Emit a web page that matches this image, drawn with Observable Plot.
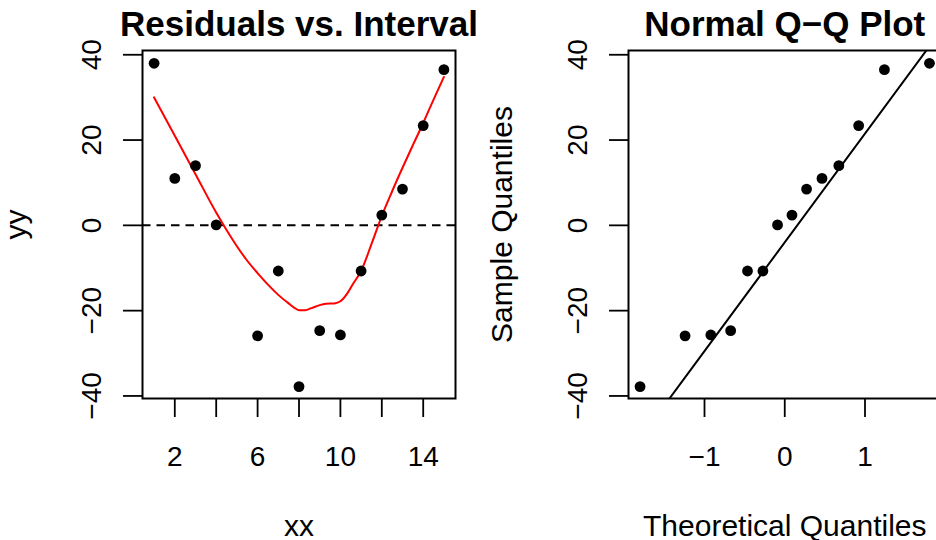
<!DOCTYPE html>
<html>
<head>
<meta charset="utf-8">
<script src="https://cdn.jsdelivr.net/npm/d3@7"></script>
<script src="https://cdn.jsdelivr.net/npm/@observablehq/plot@0.6"></script>
<style>
  body { margin: 0; background: #fff; }
  #wrap { position: relative; width: 936px; height: 540px; overflow: hidden; background: #fff; }
  #wrap svg { position: absolute; top: 0; }
</style>
</head>
<body>
<div id="wrap"></div>
<script>
// Residuals by interval (interval 5 has no observation)
const interval = [1, 2, 3, 4, 6, 7, 8, 9, 10, 11, 12, 13, 14, 15];
const residual = [38.0, 11.0, 14.0, 0.1, -25.9, -10.7, -37.8, -24.7, -25.7, -10.7, 2.4, 8.5, 23.4, 36.5];

// Smoothed trend through the residuals
const smoothX = [1, 2, 3, 4, 4.5, 5, 5.5, 6, 6.5, 7, 7.5, 7.8, 8.0, 8.3, 8.6, 9.0, 9.3, 9.7, 10.0, 10.3, 10.6, 11.0, 11.5, 11.83, 12.0, 12.5, 13.0, 13.5, 14.0, 14.5, 15.0];
const smoothY = [30.0, 21.0, 12.0, 3.0, -1.1, -4.9, -8.3, -11.2, -13.9, -16.3, -18.3, -19.4, -19.9, -19.9, -19.4, -18.7, -18.4, -18.3, -17.8, -16.2, -13.8, -10.7, -4.4, 0.0, 2.2, 8.0, 13.5, 18.8, 24.0, 29.5, 34.8];

// Normal scores for 14 observations and the reference line
const theoretical = [-1.803, -1.242, -0.921, -0.674, -0.464, -0.272, -0.090, 0.090, 0.272, 0.464, 0.674, 0.921, 1.242, 1.803];
const qqIntercept = -3.98;
const qqSlope = 25.5;

// Axis ticks and labels
const yTicks = [-40, -20, 0, 20, 40];
const xTicksLeft = [2, 4, 6, 8, 10, 12, 14];
const xLabelsLeft = [2, 6, 10, 14];
const xTicksRight = [-1, 0, 1];

const font = "'Liberation Sans', Arial, Helvetica, sans-serif";
const fs = 28;      // tick labels
const fsLab = 30;   // axis titles
const fsTitle = 35; // panel titles
const yDomain = [-40.6, 41.0];
const minus = d => (d < 0 ? "\u2212" + Math.abs(d) : String(d));

const residualRows = interval.map((x, i) => ({x, y: residual[i]}));
const smoothRows = smoothX.map((x, i) => ({x, y: smoothY[i]}));
const sample = d3.sort(residual);
const qqRows = theoretical.map((x, i) => ({x, y: sample[i]}));

function panelMarks({title, xlabel, ylabel, xTicks, xLabels}) {
  return [
    Plot.axisY(yTicks, {anchor: "left", tickSize: 19, tickFormat: () => "", strokeWidth: 1.8, label: null}),
    Plot.axisX(xTicks, {anchor: "bottom", tickSize: 19, tickFormat: () => "", strokeWidth: 1.8, label: null}),
    Plot.text(yTicks, {y: d => d, text: minus, frameAnchor: "left", dx: -42, rotate: -90,
      textAnchor: "middle", lineAnchor: "bottom", fontSize: fs, fill: "black"}),
    Plot.text(xLabels, {x: d => d, text: minus, frameAnchor: "bottom", dy: 67,
      textAnchor: "middle", lineAnchor: "bottom", fontSize: fs, fill: "black"}),
    Plot.text([ylabel], {text: d => d, frameAnchor: "left", dx: -117, rotate: -90,
      textAnchor: "middle", lineAnchor: "bottom", fontSize: fsLab, fill: "black"}),
    Plot.text([xlabel], {text: d => d, frameAnchor: "bottom", dy: 137,
      textAnchor: "middle", lineAnchor: "bottom", fontSize: fsLab, fill: "black"}),
    Plot.text([title], {text: d => d, frameAnchor: "top", dy: -15,
      textAnchor: "middle", lineAnchor: "bottom", fontSize: fsTitle, fontWeight: "bold", fill: "black"}),
    Plot.frame({stroke: "black", strokeWidth: 2})
  ];
}

const left = Plot.plot({
  width: 468, height: 540,
  marginLeft: 142, marginRight: 13, marginTop: 50, marginBottom: 142,
  style: {fontFamily: font, fontSize: fs + "px", background: "transparent", overflow: "visible"},
  x: {domain: [0.44, 15.56]},
  y: {domain: yDomain},
  marks: [
    Plot.ruleY([0], {stroke: "black", strokeWidth: 2, strokeDasharray: "8.5,6"}),
    Plot.line(smoothRows, {x: "x", y: "y", stroke: "red", strokeWidth: 2, curve: "monotone-x"}),
    Plot.dot(residualRows, {x: "x", y: "y", r: 5.4, fill: "black"}),
    ...panelMarks({title: "Residuals vs. Interval", xlabel: "xx", ylabel: "yy", xTicks: xTicksLeft, xLabels: xLabelsLeft})
  ]
});
left.style.left = "0px";

const xq = [-1.947, 1.947];
const qqLineRows = xq.map(x => ({x, y: qqIntercept + qqSlope * x}));

const right = Plot.plot({
  width: 480, height: 540,
  marginLeft: 160, marginRight: 7.5, marginTop: 50, marginBottom: 142,
  style: {fontFamily: font, fontSize: fs + "px", background: "transparent", overflow: "visible"},
  x: {domain: xq},
  y: {domain: yDomain},
  marks: [
    Plot.line(qqLineRows, {x: "x", y: "y", stroke: "black", strokeWidth: 2, clip: true}),
    Plot.dot(qqRows, {x: "x", y: "y", r: 5.4, fill: "black"}),
    ...panelMarks({title: "Normal Q\u2212Q Plot", xlabel: "Theoretical Quantiles", ylabel: "Sample Quantiles", xTicks: xTicksRight, xLabels: xTicksRight})
  ]
});
right.style.left = "468px";

const wrap = document.getElementById("wrap");
wrap.appendChild(left);
wrap.appendChild(right);
</script>
</body>
</html>
